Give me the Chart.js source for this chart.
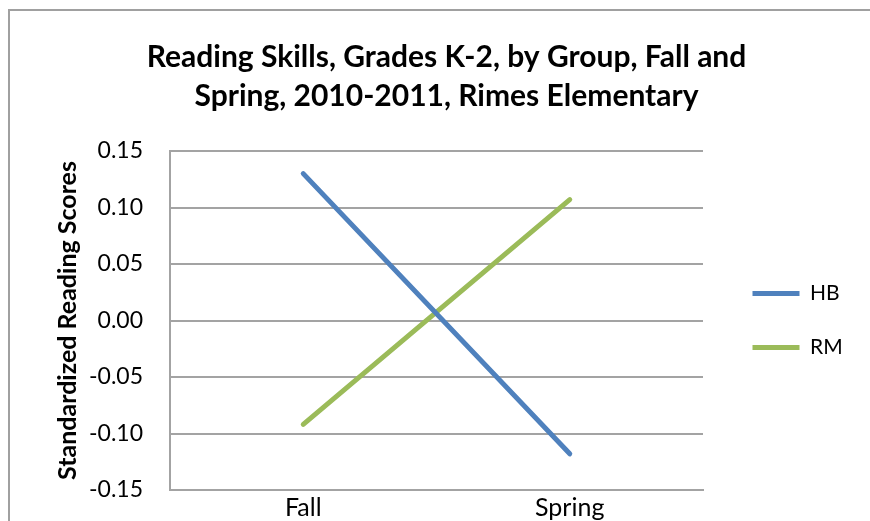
<!DOCTYPE html>
<html>
<head>
<meta charset="utf-8">
<script src="https://cdn.jsdelivr.net/npm/chart.js@4.4.1/dist/chart.umd.min.js"></script>
<style>
  html, body { margin: 0; padding: 0; background: #ffffff; overflow: hidden; width: 870px; height: 521px; }
  #frame { position: absolute; left: 8px; top: 9px; width: 1000px; height: 1000px; border: 2px solid #a0a0a0; }
  #wrap { position: absolute; left: 0; top: 0; width: 870px; height: 521px; }
</style>
</head>
<body>
<div id="frame"></div>
<div id="wrap"><canvas id="c" width="870" height="521"></canvas></div>
<script>
const categories = ['Fall', 'Spring'];
const hbValues = [0.13, -0.118];
const rmValues = [-0.092, 0.107];
const seriesNames = ['HB', 'RM'];
const titleLines = ['Reading Skills, Grades K-2, by Group, Fall and', 'Spring, 2010-2011, Rimes Elementary'];
const yAxisTitle = 'Standardized Reading Scores';
const yMin = -0.15, yMax = 0.15, yStep = 0.05;

const FONT = 'Lato, "Open Sans", sans-serif';
const GRID = '#a3a3a3';

// Fine-tune horizontal placement of the title and legend blocks after layout.
const blockShift = {
  id: 'blockShift',
  afterLayout(chart) {
    const lg = chart.legend;
    if (lg) {
      lg.left = 752.5 - lg.options.labels.padding;
      lg.right = chart.width;
      lg.width = lg.right - lg.left;
    }
    const tb = chart.titleBlock;
    if (tb) {
      tb.left = 23;
      tb.right = chart.width;
      tb.width = tb.right - tb.left;
    }
  }
};

new Chart(document.getElementById('c'), {
  type: 'line',
  data: {
    labels: categories,
    datasets: [
      { label: seriesNames[0], data: hbValues, borderColor: '#4F81BD', backgroundColor: '#4F81BD',
        borderWidth: 5, borderCapStyle: 'round', pointRadius: 0, pointHoverRadius: 0, tension: 0, fill: false },
      { label: seriesNames[1], data: rmValues, borderColor: '#9BBB59', backgroundColor: '#9BBB59',
        borderWidth: 5, borderCapStyle: 'round', pointRadius: 0, pointHoverRadius: 0, tension: 0, fill: false }
    ]
  },
  options: {
    responsive: false,
    animation: false,
    devicePixelRatio: 1,
    layout: { padding: { left: 0, right: 47, top: 0, bottom: 0 } },
    plugins: {
      title: {
        display: true,
        text: titleLines,
        color: '#000',
        font: { family: FONT, size: 30, weight: 'bold', lineHeight: 1.3 },
        padding: { top: 38, bottom: 35 }
      },
      legend: {
        display: true,
        position: 'right',
        align: 'center',
        fullSize: false,
        maxWidth: 120,
        labels: {
          usePointStyle: true,
          pointStyle: 'line',
          pointStyleWidth: 47,
          padding: 33,
          color: '#000',
          font: { family: FONT, size: 21 }
        }
      },
      tooltip: { enabled: false }
    },
    scales: {
      x: {
        type: 'category',
        offset: true,
        grid: { display: false, drawTicks: false },
        border: { display: true, color: GRID, width: 2 },
        ticks: { color: '#000', font: { family: FONT, size: 25 }, padding: 3 },
        afterFit(scale) { scale.height = 31; }
      },
      y: {
        min: yMin, max: yMax,
        grid: { color: GRID, lineWidth: 2, drawTicks: true, tickLength: 27, tickColor: 'rgba(0,0,0,0)' },
        border: { display: true, color: GRID, width: 2 },
        ticks: {
          stepSize: yStep, color: '#000', padding: 0,
          font: { family: FONT, size: 23 },
          callback: (v) => Number(v).toFixed(2)
        },
        title: {
          display: true, text: yAxisTitle, color: '#000',
          font: { family: FONT, size: 25, weight: 'bold', lineHeight: 1.2 },
          padding: { top: 53, bottom: 0 }
        },
        afterFit(scale) { scale.width = 170; }
      }
    }
  },
  plugins: [blockShift]
});
</script>
</body>
</html>
